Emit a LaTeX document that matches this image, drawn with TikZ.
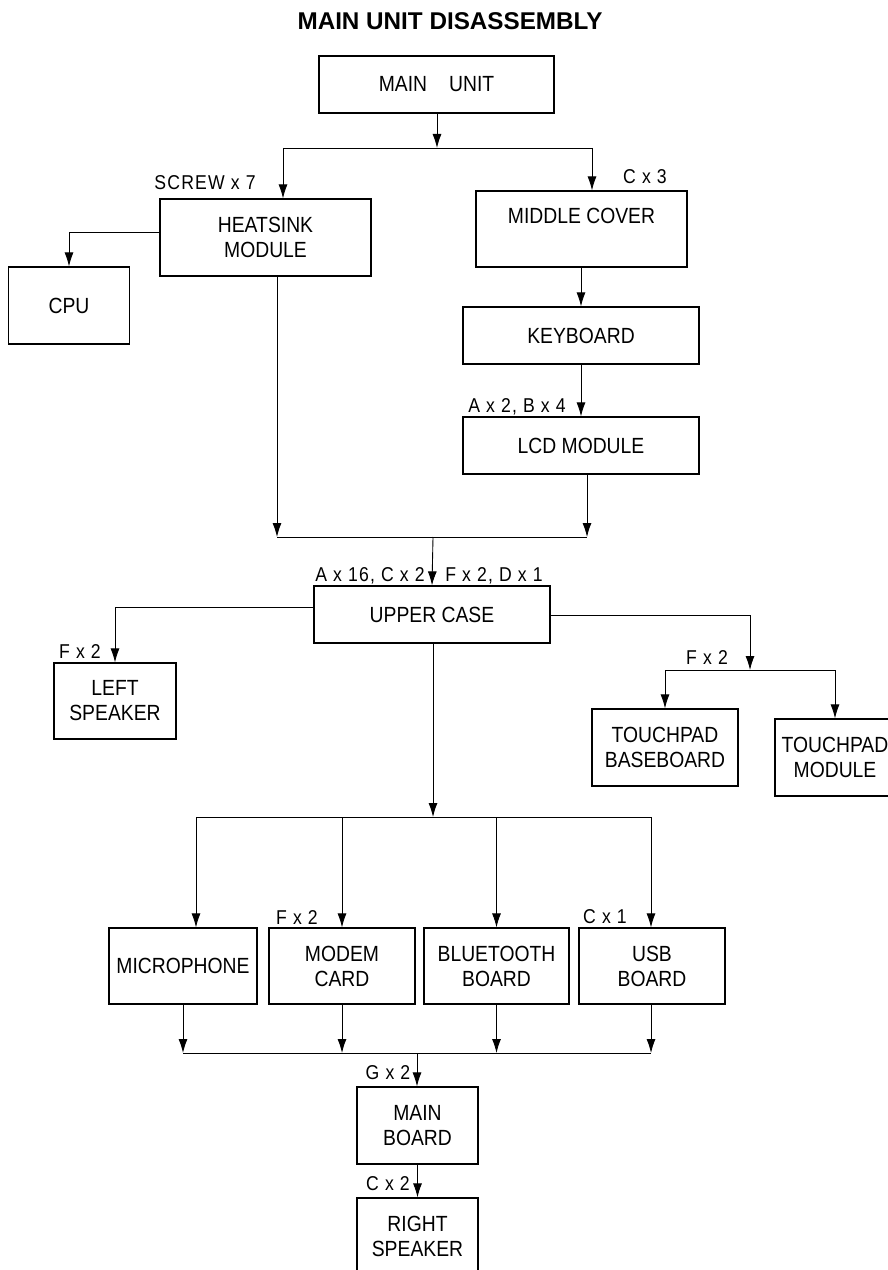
\documentclass[tikz,border=0pt]{standalone}
\usepackage{fontspec}
\setmainfont{Liberation Sans}
\newfontfamily\boxfont{Liberation Sans}[FakeStretch=0.88]
\newfontfamily\qtyfont{Liberation Sans}[FakeStretch=0.88, LetterSpace=6]
\usetikzlibrary{arrows.meta}

\tikzset{
	partbox/.style={draw, line width=0.7pt, align=center, inner sep=0pt, font=\boxfont\fontsize{12.5}{14.2}\selectfont},
	qty/.style={inner sep=0pt, font=\qtyfont\fontsize{11.4}{13}\selectfont},
	arr/.style={-{Latex[length=2.8mm,width=1.8mm]}},
	wire/.style={line width=0.5pt}
}

\begin{document}
\begin{tikzpicture}[x=0.02cm, y=-0.02cm, line join=miter]
		
		% Page frame (reference proportions)
		\clip (0,0) rectangle (888,1270);
		
		% Title
		\node[font=\fontsize{13.8}{16}\selectfont\bfseries] (title) at (450,21) {MAIN UNIT DISASSEMBLY};
		
		% Upper part: main unit, heatsink, cover, keyboard, LCD
		\node[partbox, minimum width=4.7cm, minimum height=1.14cm] (mainunit) at (436.5,84.5) {MAIN\quad UNIT};
		\node[partbox, minimum width=4.22cm, minimum height=1.54cm] (heatsink) at (265.5,237.5) {HEATSINK\\MODULE};
		\node[partbox, minimum width=4.22cm, minimum height=1.52cm] (midcover) at (581.5,229) {MIDDLE COVER\\[-0.3em]\strut};
		\node[partbox, minimum width=2.43cm, minimum height=1.54cm] (cpu) at (69,305.5) {CPU};
		\node[partbox, minimum width=4.72cm, minimum height=1.14cm] (keyboard) at (581,335.5) {KEYBOARD};
		\node[partbox, minimum width=4.72cm, minimum height=1.14cm] (lcd) at (581,445.5) {LCD MODULE};
		
		% Middle part: upper case and the parts round it
		\node[partbox, minimum width=4.72cm, minimum height=1.14cm] (uppercase) at (432,614.5) {UPPER CASE};
		\node[partbox, minimum width=2.44cm, minimum height=1.52cm] (leftspk) at (115,701) {LEFT\\SPEAKER};
		\node[partbox, minimum width=2.92cm, minimum height=1.54cm] (tpbase) at (665,747.5) {TOUCHPAD\\BASEBOARD};
		\node[partbox, minimum width=2.4cm, minimum height=1.54cm] (tpmod) at (835,757.5) {TOUCHPAD\\MODULE};
		
		% Lower part: boards, main board, right speaker
		\node[partbox, minimum width=2.96cm, minimum height=1.52cm] (mic) at (183,966) {MICROPHONE};
		\node[partbox, minimum width=2.92cm, minimum height=1.52cm] (modem) at (342,966) {MODEM\\CARD};
		\node[partbox, minimum width=2.9cm, minimum height=1.52cm] (bluetooth) at (496.5,966) {BLUETOOTH\\BOARD};
		\node[partbox, minimum width=2.92cm, minimum height=1.52cm] (usb) at (652,966) {USB\\BOARD};
		\node[partbox, minimum width=2.42cm, minimum height=1.54cm] (mainboard) at (417.5,1125.5) {MAIN\\BOARD};
		\node[partbox, minimum width=2.42cm, minimum height=1.54cm] (rightspk) at (417.5,1236.5) {RIGHT\\SPEAKER};
		
		% Junction points of the connectors
		\coordinate (split1) at (437,148);
		\coordinate (hsin) at (283,148);
		\coordinate (mcin) at (592,148);
		\coordinate (cputurn) at (69,232);
		\coordinate (hsout) at (277,537);
		\coordinate (lcdout) at (587,537);
		\coordinate (join1) at (433,537);
		\coordinate (lsturn) at (115,607);
		\coordinate (tpturn) at (750,615);
		\coordinate (split2) at (750,670);
		\coordinate (split3) at (433,817);
		\coordinate (micin) at (196,817);
		\coordinate (usbin) at (651,817);
		\coordinate (join2) at (417,1053);
		\coordinate (micout) at (183,1053);
		\coordinate (usbout) at (651,1053);
		
		% Main unit to heatsink and middle cover
		\draw[wire, arr] (mainunit.south -| split1) -- (split1);
		\draw[wire] (hsin) -- (mcin);
		\draw[wire, arr] (hsin) -- (hsin |- heatsink.north);
		\draw[wire, arr] (mcin) -- (mcin |- midcover.north);
		
		% Heatsink to CPU, cover to keyboard to LCD
		\draw[wire, arr] (heatsink.west |- cputurn) -- (cputurn) -- (cpu.north);
		\draw[wire, arr] (keyboard.north |- midcover.south) -- (keyboard.north);
		\draw[wire, arr] (keyboard.south) -- (lcd.north);
		
		% Heatsink and LCD join towards upper case
		\draw[wire, arr] (hsout |- heatsink.south) -- (hsout);
		\draw[wire, arr] (lcdout |- lcd.south) -- (lcdout);
		\draw[wire] (hsout) -- (lcdout);
		\draw[wire, arr] (join1) -- (uppercase.north);
		
		% Upper case to speakers and touchpad
		\draw[wire, arr] (uppercase.west |- lsturn) -- (lsturn) -- (leftspk.north);
		\draw[wire, arr] (uppercase.east |- tpturn) -- (tpturn) -- (split2);
		\draw[wire] (split2 -| tpbase.north) -- (split2 -| tpmod.north);
		\draw[wire, arr] (split2 -| tpbase.north) -- (tpbase.north);
		\draw[wire, arr] (split2 -| tpmod.north) -- (tpmod.north);
		
		% Upper case to the four boards
		\draw[wire, arr] (uppercase.south -| split3) -- (split3);
		\draw[wire] (micin) -- (usbin);
		\draw[wire, arr] (micin) -- (micin |- mic.north);
		\draw[wire, arr] (split3 -| modem.north) -- (modem.north);
		\draw[wire, arr] (split3 -| bluetooth.north) -- (bluetooth.north);
		\draw[wire, arr] (usbin) -- (usbin |- usb.north);
		
		% Four boards join towards main board
		\draw[wire, arr] (mic.south) -- (micout);
		\draw[wire, arr] (modem.south) -- (modem.south |- join2);
		\draw[wire, arr] (bluetooth.south) -- (bluetooth.south |- join2);
		\draw[wire, arr] (usbout |- usb.south) -- (usbout);
		\draw[wire] (micout) -- (usbout);
		\draw[wire, arr] (join2) -- (join2 |- mainboard.north);
		\draw[wire, arr] (mainboard.south) -- (rightspk.north);
		
		% Screw counts
		\node[qty] (qscrew) at (205,183) {SCREW x 7};
		\node[qty] (qcover) at (645,177) {C x 3};
		\node[qty] (qlcd) at (517,407) {A x 2, B x 4};
		\node[qty] (qcasel) at (370,576) {A x 16, C x 2};
		\node[qty] (qcaser) at (494,576) {F x 2, D x 1};
		\node[qty] (qlspk) at (80,652) {F x 2};
		\node[qty] (qtp) at (707,658) {F x 2};
		\node[qty] (qmodem) at (297,917) {F x 2};
		\node[qty] (qusb) at (605,917) {C x 1};
		\node[qty] (qmain) at (388,1073) {G x 2};
		\node[qty] (qrspk) at (388,1184) {C x 2};
		
	\end{tikzpicture}
\end{document}
